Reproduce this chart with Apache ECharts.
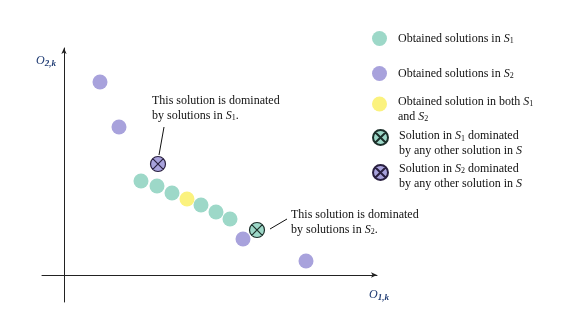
<!DOCTYPE html>
<html><head><meta charset="utf-8">
<script src="https://cdn.jsdelivr.net/npm/echarts@6/dist/echarts.min.js"></script>
<style>html,body{margin:0;padding:0;background:#fff}#c{width:562px;height:321px}</style>
</head><body><div id="c"></div>
<script>
// ---- data (objective space units) ----
const s1Points = [[77,94],[93,89],[108,82],[137,70],[152,63],[166,56]];
const s2Points = [[36,193],[55,148],[179,36],[242,14]];
const bothPoints = [[123,76]];
const domS1Points = [[193,45]];
const domS2Points = [[94,111]];
const note1Line = [[100,148],[95,120]];
const note1Anchor = [88,182];
const note2Line = [[206,46],[223,56]];
const note2Anchor = [227,68];
const xRange = [-22,313];
const yRange = [-27,227];

const SERIF = "'Liberation Serif','Times New Roman',serif";
const GREEN = '#9dd8c8', PURPLE = '#a8a2dc', YELLOW = '#fbf27e';
const XPATH = 'path://M0,10A10,10 0 1,1 20,10A10,10 0 1,1 0,10ZM2.93,2.93L17.07,17.07M17.07,2.93L2.93,17.07';

const rich = {
  t:{fontFamily:SERIF,fontSize:12,color:'#111',lineHeight:15},
  i:{fontFamily:SERIF,fontSize:12,fontStyle:'italic',color:'#111',lineHeight:15},
  s:{fontFamily:SERIF,fontSize:8,color:'#111',padding:[5,0,0,0],lineHeight:15}
};
const names = ['Obtained solutions in S1','Obtained solutions in S2','Obtained solution in both S1 and S2','Solution in S1 dominated','Solution in S2 dominated'];
const legendText = {
  [names[0]]:'{t|Obtained solutions in }{i|S}{s|1}',
  [names[1]]:'{t|Obtained solutions in }{i|S}{s|2}',
  [names[2]]:'{t|Obtained solution in both }{i|S}{s|1}\n{t|and }{i|S}{s|2}',
  [names[3]]:'{t|Solution in }{i|S}{s|1}{t| dominated}\n{t|by any other solution in }{i|S}',
  [names[4]]:'{t|Solution in }{i|S}{s|2}{t| dominated}\n{t|by any other solution in }{i|S}'
};
const legendTops = [26,61,90,124,157];
const legendPadTop = [0,0,10,12,7];

function mkLegend(k){
  return {data:[names[k]], left:367, top:legendTops[k], orient:'vertical', itemWidth:15, itemHeight:15,
    selectedMode:false, formatter:n=>legendText[n],
    textStyle:{rich:rich, padding:[legendPadTop[k],0,0,6]}};
}

const chart = echarts.init(document.getElementById('c'));
chart.setOption({
  animation:false,
  backgroundColor:'#fff',
  grid:{left:42,right:185,top:48,bottom:19},
  xAxis:{type:'value',min:xRange[0],max:xRange[1],splitLine:{show:false},axisTick:{show:false},axisLabel:{show:false},
    axisLine:{onZero:true,lineStyle:{color:'#222',width:1},symbol:['none','arrow'],symbolSize:[4,6]}},
  yAxis:{type:'value',min:yRange[0],max:yRange[1],splitLine:{show:false},axisTick:{show:false},axisLabel:{show:false},
    axisLine:{onZero:true,lineStyle:{color:'#222',width:1},symbol:['none','arrow'],symbolSize:[4,6]}},
  legend:[0,1,2,3,4].map(mkLegend),
  graphic:[
    {type:'text',left:36,top:55,style:{rich:{
      o:{fontFamily:SERIF,fontSize:12,fontStyle:'italic',fill:'#1f3b73'},
      b:{fontFamily:SERIF,fontSize:9,fontStyle:'italic',fontWeight:'bold',fill:'#1f3b73',padding:[5,0,0,0]}},
      text:'{o|O}{b|2,k}'}},
    {type:'text',left:369,top:289,style:{rich:{
      o:{fontFamily:SERIF,fontSize:12,fontStyle:'italic',fill:'#1f3b73'},
      b:{fontFamily:SERIF,fontSize:9,fontStyle:'italic',fontWeight:'bold',fill:'#1f3b73',padding:[5,0,0,0]}},
      text:'{o|O}{b|1,k}'}}
  ],
  series:[
    {name:names[0],type:'scatter',data:s1Points,symbol:'circle',symbolSize:15,itemStyle:{color:GREEN,opacity:1}},
    {name:names[1],type:'scatter',data:s2Points,symbol:'circle',symbolSize:15,itemStyle:{color:PURPLE,opacity:1}},
    {name:names[2],type:'scatter',data:bothPoints,symbol:'circle',symbolSize:15,itemStyle:{color:YELLOW,opacity:1}},
    {name:names[3],type:'scatter',data:domS1Points,symbol:XPATH,symbolSize:15,
      itemStyle:{color:GREEN,borderColor:'#1c2f2a',borderWidth:1.2,opacity:1},
      markLine:{silent:true,symbol:'none',label:{show:false},lineStyle:{color:'#111',width:1,type:'solid'},
        data:[[{coord:note2Line[0]},{coord:note2Line[1]}]]},
      markPoint:{silent:true,symbol:'circle',symbolSize:0,data:[{coord:note2Anchor}],
        label:{show:true,position:[0,0],align:'left',verticalAlign:'top',rich:rich,
          formatter:'{t|This solution is dominated}\n{t|by solutions in }{i|S}{s|2}{t|.}'}}},
    {name:names[4],type:'scatter',data:domS2Points,symbol:XPATH,symbolSize:15,
      itemStyle:{color:PURPLE,borderColor:'#2a2040',borderWidth:1.2,opacity:1},
      markLine:{silent:true,symbol:'none',label:{show:false},lineStyle:{color:'#111',width:1,type:'solid'},
        data:[[{coord:note1Line[0]},{coord:note1Line[1]}]]},
      markPoint:{silent:true,symbol:'circle',symbolSize:0,data:[{coord:note1Anchor}],
        label:{show:true,position:[0,0],align:'left',verticalAlign:'top',rich:rich,
          formatter:'{t|This solution is dominated}\n{t|by solutions in }{i|S}{s|1}{t|.}'}}}
  ]
});
</script></body></html>
